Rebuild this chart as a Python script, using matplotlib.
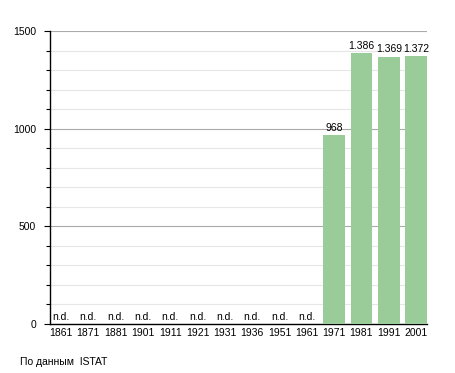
import matplotlib
matplotlib.use("Agg")
import matplotlib.pyplot as plt
from matplotlib.ticker import MultipleLocator

years = ["1861", "1871", "1881", "1901", "1911", "1921", "1931",
         "1936", "1951", "1961", "1971", "1981", "1991", "2001"]
population = [None, None, None, None, None, None, None,
              None, None, None, 968, 1386, 1369, 1372]
source_note = "По данным  ISTAT"

plt.rcParams["font.family"] = ["Liberation Sans", "DejaVu Sans"]

fig = plt.figure(figsize=(4.55, 3.73), dpi=100)
ax = fig.add_axes([0.1099, 0.1314, 0.8286, 0.7855])

xs = list(range(len(years)))
heights = [v if v is not None else 0 for v in population]
ax.bar(xs, heights, width=0.79, color="#99cc99", zorder=3)

for x, v in zip(xs, population):
    if v is None:
        ax.text(x, 8, "n.d.", ha="center", va="bottom", fontsize=7.5, zorder=4)
    else:
        label = f"{v:,}".replace(",", ".")
        ax.text(x, v + 12, label, ha="center", va="bottom", fontsize=7.5, zorder=4)

ax.set_xlim(-0.4, 13.4)
ax.set_ylim(0, 1500)
ax.set_xticks(xs)
ax.set_xticklabels(years, fontsize=7.5)
ax.yaxis.set_major_locator(MultipleLocator(500))
ax.yaxis.set_minor_locator(MultipleLocator(100))
ax.tick_params(axis="y", labelsize=7.5, length=4, width=0.8, pad=6)
ax.tick_params(axis="y", which="minor", length=3, width=0.8)
ax.tick_params(axis="x", length=0, pad=3)

ax.grid(axis="y", which="major", color="#aaaaaa", linewidth=0.8, zorder=1)
ax.grid(axis="y", which="minor", color="#e6e6e6", linewidth=0.8, zorder=0)

for side in ("top", "right"):
    ax.spines[side].set_visible(False)
ax.spines["left"].set_linewidth(1.0)
ax.spines["bottom"].set_linewidth(1.0)

fig.text(20 / 455, 1 - 362 / 373, source_note, fontsize=7.5, va="center")

fig.savefig("out.png", dpi=100)
